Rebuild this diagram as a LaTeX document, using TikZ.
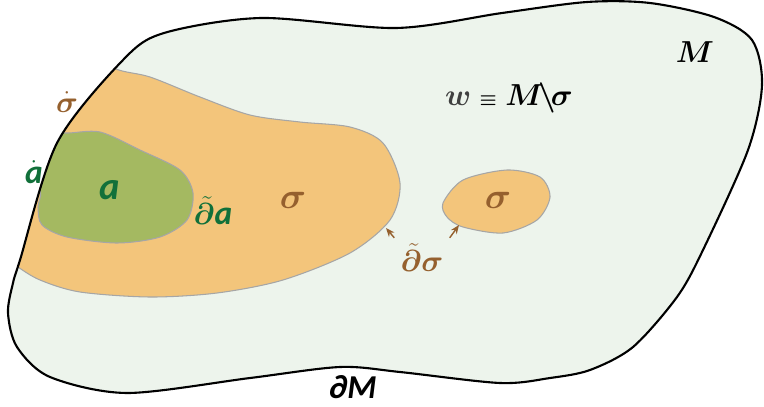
\documentclass[tikz,border=0pt]{standalone}
\usepackage{amsmath}
\usepackage{amssymb}
\usepackage{bm}
\usepackage{fontspec}
\newfontfamily\calibfont{Carlito}
\usepackage{xcolor}
\usetikzlibrary{arrows.meta, positioning}

\definecolor{mfdfill}{HTML}{EDF4EC}
\definecolor{sigfill}{HTML}{F3C57B}
\definecolor{afill}{HTML}{A4B961}
\definecolor{sigtext}{HTML}{95602E}
\definecolor{atext}{HTML}{11703A}
\definecolor{wtext}{HTML}{404040}

% outline of the manifold M
\def\mfdboundary{plot[smooth cycle] coordinates {(20,260) (57,143) (123,60) (164,33) (261,18)
    (396,28) (502,13) (587,2) (650,3) (714,17) (752,40) (762,85) (748,150) (703,250)
    (677,297) (633,347) (590,370) (550,378) (500,383) (400,372) (340,367) (250,378)
    (127,393) (50,377) (17,347) (8,313) (13,283)}}

\begin{document}
\begin{tikzpicture}[
    x=0.02cm, y=-0.02cm,
    region/.style={draw=black!35, line width=0.6pt},
    sigregion/.style={region, fill=sigfill},
    aregion/.style={region, fill=afill},
    siglabel/.style={text=sigtext, font=\fontsize{20}{22}\selectfont},
    alabel/.style={text=atext, font=\calibfont\bfseries\itshape\fontsize{19}{22}\selectfont},
    pointer/.style={-{Stealth[length=5pt,width=4pt]}, draw=sigtext, line width=0.8pt}
]
\useasboundingbox (0,0) rectangle (764,406);

% manifold
\fill[mfdfill] \mfdboundary;

% regions sigma and a, cut by the boundary
\begin{scope}
    \clip \mfdboundary;
    \draw[sigregion] plot[smooth cycle] coordinates {(113,68) (150,77) (200,97) (250,115)
        (300,122) (350,127) (383,143) (400,183) (390,220) (350,253) (283,280) (217,293)
        (150,297) (80,292) (40,280) (15,265) (-20,240) (-20,100) (60,40)};
    \draw[aregion] plot[smooth cycle] coordinates {(65,133) (100,132) (140,150) (180,170)
        (193,193) (187,220) (160,237) (117,243) (67,237) (42,225) (38,207) (40,190)
        (20,160) (40,128)};
\end{scope}
\draw[sigregion] plot[smooth cycle] coordinates {(443,203) (463,180) (507,170) (540,177)
    (550,197) (537,220) (503,233) (463,227) (447,217)};

\draw[line width=1.2pt] \mfdboundary;

% labels
\node[font=\fontsize{18}{20}\selectfont] (mlabel) at (695,52) {$\boldsymbol{M}$};
\node[font=\fontsize{16}{18}\selectfont] (wdef) at (509,98)
    {$\boldsymbol{{\color{wtext}w}\mathrel{\scriptstyle\equiv}M\!\backslash\!\sigma}$};
\node[siglabel] (sigbig) at (293,200) {$\boldsymbol{\sigma}$};
\node[siglabel] (sigsmall) at (498,200) {$\boldsymbol{\sigma}$};
\node[siglabel, font=\fontsize{18}{20}\selectfont] (sigdot) at (67,102)
    {$\dot{\boldsymbol{\sigma}}$};
\node[alabel] (adot) at (34,172) {$\dot{\text{\calibfont\bfseries\itshape a}}$};
\node[alabel, font=\calibfont\bfseries\itshape\fontsize{22}{24}\selectfont] (ablob)
    at (110,190) {a};
\node[alabel] (dtila) at (213,211) {$\boldsymbol{\tilde{\partial}}$a};
\node[siglabel, font=\fontsize{16}{18}\selectfont] (dtilsig) at (422,258)
    {$\boldsymbol{\tilde{\partial}\sigma}$};
\node[font=\calibfont\bfseries\itshape\fontsize{19}{22}\selectfont] (dmfd)
    at (353,387) {∂M};

% pointers to the edge of sigma
\coordinate (sigbigedge) at (386,228);
\coordinate (sigsmalledge) at (459,225);
\draw[pointer] (dtilsig.north west) -- (sigbigedge);
\draw[pointer] (dtilsig.north east) -- (sigsmalledge);

\end{tikzpicture}
\end{document}
